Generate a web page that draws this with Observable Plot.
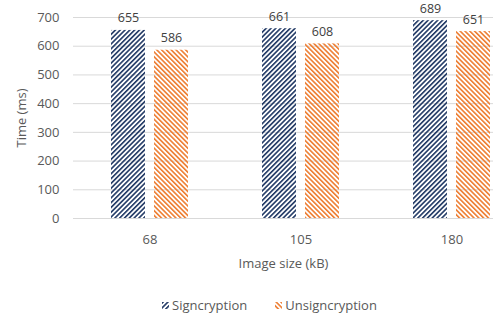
<!DOCTYPE html>
<html><head><meta charset="utf-8">
<script src="https://cdn.jsdelivr.net/npm/d3@7"></script>
<script src="https://cdn.jsdelivr.net/npm/@observablehq/plot@0.6"></script>
<style>
body{margin:0;background:#fff;width:493px;height:314px;overflow:hidden;font-family:"Open Sans",sans-serif;}
#legend{display:flex;justify-content:center;gap:28px;font-size:13px;color:#595959;margin-top:14px;padding-left:46px;}
#legend span{display:inline-flex;align-items:center;gap:3px;}
</style></head><body>
<div id="chart"></div>
<div id="legend"></div>
<script>
const sizes = ["68", "105", "180"];
const seriesNames = ["Signcryption", "Unsigncryption"];
const signcryption = [655, 661, 689];
const unsigncryption = [586, 608, 651];
const yTicks = [0, 100, 200, 300, 400, 500, 600, 700];
const colors = ["#203864", "#ED7D31"];
const patternIds = ["hatchA", "hatchB"];

const rowsA = sizes.map((s, i) => ({size: s, series: seriesNames[0], value: signcryption[i]}));
const rowsB = sizes.map((s, i) => ({size: s, series: seriesNames[1], value: unsigncryption[i]}));

const defsMark = () => {
  const ns = "http://www.w3.org/2000/svg";
  const g = document.createElementNS(ns, "g");
  const defs = document.createElementNS(ns, "defs");
  [[0, 45], [1, -45]].forEach(([k, ang]) => {
    const p = document.createElementNS(ns, "pattern");
    p.setAttribute("id", patternIds[k]);
    p.setAttribute("patternUnits", "userSpaceOnUse");
    p.setAttribute("width", "3.4");
    p.setAttribute("height", "6");
    p.setAttribute("patternTransform", `rotate(${ang})`);
    const r = document.createElementNS(ns, "rect");
    r.setAttribute("x", "0"); r.setAttribute("y", "0");
    r.setAttribute("width", "1.6"); r.setAttribute("height", "6");
    r.setAttribute("fill", colors[k]);
    p.appendChild(r);
    defs.appendChild(p);
  });
  g.appendChild(defs);
  return g;
};

const font = "'Open Sans', sans-serif";
const chart = Plot.plot({
  width: 493,
  height: 282,
  marginLeft: 73,
  marginRight: 0,
  marginTop: 17,
  marginBottom: 64,
  style: {fontFamily: font, fontSize: "13px", color: "#595959", background: "white"},
  x: {domain: sizes, range: [74, 527], padding: 0},
  y: {domain: [0, 700], ticks: yTicks},
  marks: [
    defsMark,
    Plot.gridY(yTicks, {stroke: "#d9d9d9", strokeOpacity: 1}),
    Plot.barY(rowsA, {x: "size", y: "value", fill: `url(#${patternIds[0]})`, insetLeft: 37, insetRight: 80}),
    Plot.barY(rowsB, {x: "size", y: "value", fill: `url(#${patternIds[1]})`, insetLeft: 80, insetRight: 37}),
    Plot.text(rowsA, {x: "size", y: "value", text: d => String(d.value), dx: -21.5, dy: -12, fill: "#404040", fontSize: 12.5}),
    Plot.text(rowsB, {x: "size", y: "value", text: d => String(d.value), dx: 21.5, dy: -12, fill: "#404040", fontSize: 12.5}),
    Plot.axisY({ticks: yTicks, tickSize: 0, tickPadding: 14, label: "Time (ms)", labelAnchor: "center", labelArrow: "none", labelOffset: 57, fill: "#595959"}),
    Plot.axisX({tickSize: 0, tickPadding: 16, label: "Image size (kB)", labelAnchor: "center", labelArrow: "none", labelOffset: 49, fill: "#595959"})
  ]
});
document.getElementById("chart").appendChild(chart);

const legend = document.getElementById("legend");
seriesNames.forEach((n, k) => {
  const span = document.createElement("span");
  span.innerHTML = `<svg width="7" height="7"><rect width="7" height="7" fill="url(#${patternIds[k]})"/></svg>${n}`;
  legend.appendChild(span);
});
</script>
</body></html>
